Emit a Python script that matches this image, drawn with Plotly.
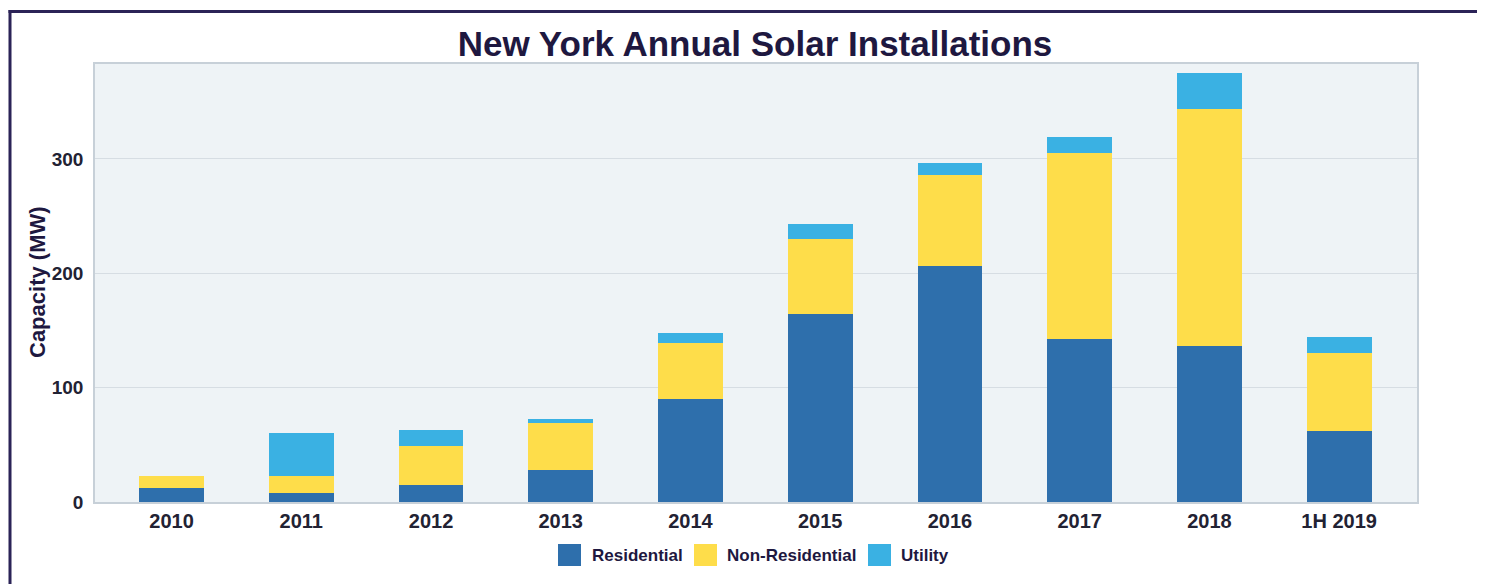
import plotly.graph_objects as go

categories = ["2010", "2011", "2012", "2013", "2014", "2015", "2016", "2017", "2018", "1H 2019"]
residential = [12, 7.5, 15, 28, 90, 164.5, 206.5, 142.5, 136.5, 62]
non_residential = [10.5, 15, 34, 41.5, 49, 65.5, 79.5, 163, 207, 68]
utility = [0, 37.5, 14, 3, 9, 13, 10.5, 14, 32, 14.5]

series_names = ["Residential", "Non-Residential", "Utility"]
series_values = [residential, non_residential, utility]
colors = ["#2e6fac", "#fedd4a", "#3ab1e3"]
y_ticks = [0, 100, 200, 300]

# page offset (browser default body margin)
OFF = 8
PAGE_W, PAGE_H = 1485, 584
W, H = PAGE_W - OFF, PAGE_H - OFF
# plot area in page pixels
P_L, P_R, P_T, P_B = 95, 1417, 64, 502
ML, MR, MT, MB = P_L - OFF, PAGE_W - P_R, P_T - OFF, PAGE_H - P_B
PW, PH = P_R - P_L, P_B - P_T

def px(x):
    return (x - P_L) / PW

def py(y):
    return (P_B - y) / PH

text_color = "#1e1840"
tick_color = "#222233"
font_family = "Liberation Sans, Arial, sans-serif"

fig = go.Figure()
for name, vals, c in zip(series_names, series_values, colors):
    fig.add_trace(go.Bar(x=categories, y=vals, name=name, marker=dict(color=c, line=dict(width=0)),
                         showlegend=False))

shapes = []
annotations = []
frame_col = "#2b2357"
shapes.append(dict(type="line", xref="paper", yref="paper", x0=px(10), x1=px(10), y0=py(10), y1=py(600),
                   line=dict(color=frame_col, width=3)))
shapes.append(dict(type="line", xref="paper", yref="paper", x0=px(8.5), x1=px(1500), y0=py(11.5), y1=py(11.5),
                   line=dict(color=frame_col, width=3)))

legend_sq = [558, 694, 868]
legend_tx = [590, 725, 899]
for name, c, sx, tx in zip(series_names, colors, legend_sq, legend_tx):
    shapes.append(dict(type="rect", xref="paper", yref="paper", x0=px(sx), x1=px(sx + 23),
                       y0=py(544), y1=py(566), fillcolor=c, line=dict(width=0)))
    annotations.append(dict(xref="paper", yref="paper", x=px(tx), y=py(555), text=name, showarrow=False,
                            xanchor="left", yanchor="middle",
                            font=dict(family=font_family, size=17, color=text_color, weight="bold")))

annotations.append(dict(xref="paper", yref="paper", x=px(37), y=py(282), text="Capacity (MW)",
                        showarrow=False, textangle=-90, xanchor="center", yanchor="middle",
                        font=dict(family=font_family, size=22, color=text_color, weight="bold")))

fig.update_layout(
    width=W, height=H,
    margin=dict(l=ML, r=MR, t=MT, b=MB),
    paper_bgcolor="white",
    plot_bgcolor="#eef3f6",
    barmode="stack",
    bargap=0.5,
    title=dict(text="New York Annual Solar Installations", x=px(755), xanchor="center",
               y=1 - (44 - OFF) / H, yanchor="middle", yref="container", xref="paper",
               font=dict(family=font_family, size=35, color=text_color, weight="bold")),
    xaxis=dict(type="category", range=[-0.59, 9.6], showgrid=False, ticks="",
               tickfont=dict(family=font_family, size=20, color=tick_color, weight="bold"),
               showline=True, linecolor="#c7d0d8", linewidth=1.5, mirror=True),
    yaxis=dict(range=[0, 383], tickvals=y_ticks, showgrid=True, gridcolor="#d6dde3", gridwidth=1,
               zeroline=False, ticks="",
               tickfont=dict(family=font_family, size=19, color=tick_color, weight="bold"),
               showline=True, linecolor="#c7d0d8", linewidth=1.5, mirror=True, ticklabelstandoff=6),
    shapes=shapes,
    annotations=annotations,
    showlegend=False,
)

fig.write_html("out.html")
